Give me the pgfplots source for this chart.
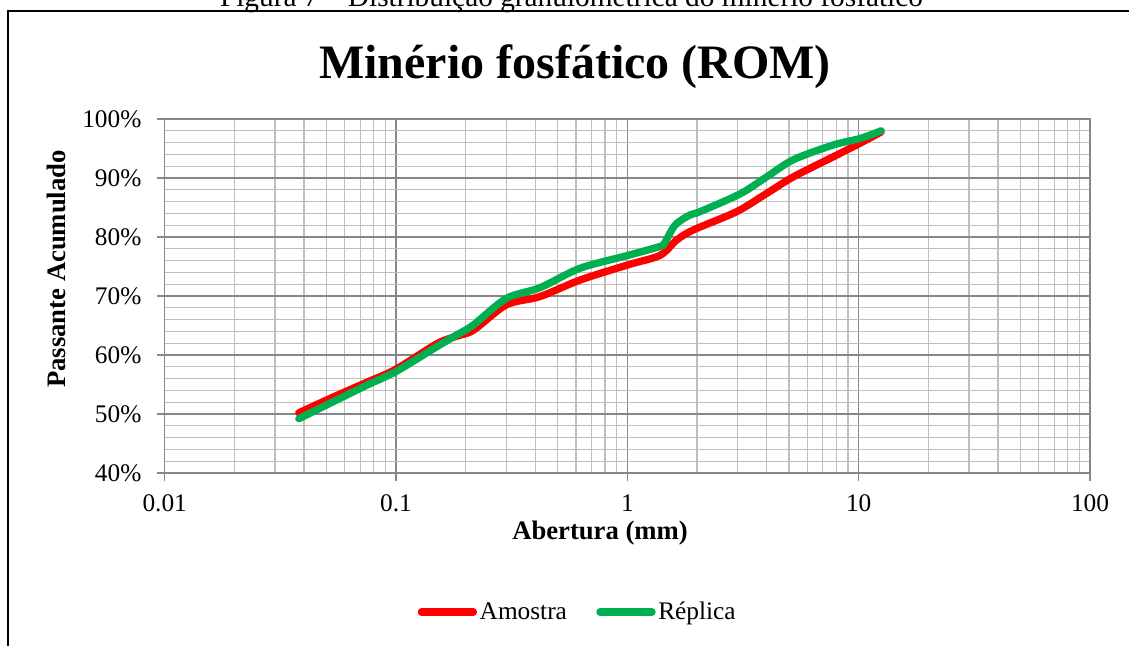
\documentclass[border=0pt]{standalone}
\usepackage{fontspec}
\setmainfont{Liberation Serif}
\usepackage{pgfplots}
\pgfplotsset{compat=1.18}
\definecolor{amostra}{HTML}{FF0000}
\definecolor{replica}{HTML}{00B050}
\definecolor{majorgrid}{HTML}{878787}
\definecolor{minorgrid}{HTML}{BFBFBF}

\begin{document}
\begin{tikzpicture}[x=0.75pt,y=-0.75pt]
\useasboundingbox (0,0) rectangle (1129,646);
\clip (0,0) rectangle (1129,646);
% frame of the figure
\draw[line width=1pt] (8,670) -- (8,11) -- (1150,11);
% caption above the frame
\node[anchor=base, inner sep=0pt, font=\fontsize{22}{24}\selectfont] at (571.5,6.5)
  {Figura 7 – Distribuição granulométrica do minério fosfático};
% chart title and axis titles
\node[anchor=base, inner sep=0pt, font=\fontsize{36}{40}\selectfont\bfseries] at (575,78)
  {Minério fosfático (ROM)};
\node[anchor=base, rotate=90, inner sep=0pt, font=\fontsize{20}{22}\selectfont\bfseries] at (65,269)
  {Passante Acumulado};
\node[anchor=base, inner sep=0pt, font=\fontsize{20}{22}\selectfont\bfseries] at (600,539)
  {Abertura (mm)};
\begin{axis}[
  at={(123.525pt,-354.75pt)}, anchor=south west,
  scale only axis, width=693.975pt, height=265.5pt,
  xmode=log, xmin=0.01, xmax=100, ymin=40, ymax=100,
  xtick={0.01,0.1,1,10,100}, xticklabels={0.01,0.1,1,10,100},
  minor xtick={0.02,0.03,0.04,0.05,0.06,0.07,0.08,0.09,
               0.2,0.3,0.4,0.5,0.6,0.7,0.8,0.9,
               2,3,4,5,6,7,8,9,20,30,40,50,60,70,80,90},
  ytick={40,50,60,70,80,90,100},
  minor y tick num=4,
  yticklabel={\pgfmathprintnumber{\tick}\%},
  /pgf/number format/assume math mode=true,
  grid=both,
  major grid style={majorgrid, line width=1.2pt},
  minor grid style={minorgrid, line width=0.9pt},
  axis line style={majorgrid, line width=1.2pt},
  tickpos=left, tick align=outside,
  major tick length=6pt, minor tick length=0pt,
  tick style={majorgrid, line width=1.2pt},
  ticklabel style={font=\fontsize{19}{21}\selectfont},
  xticklabel style={yshift=-7pt},
  yticklabel style={xshift=-8pt},
  legend style={at={(0.4467,-0.3927)}, anchor=center, draw=none, fill=none,
    legend columns=2, font=\fontsize{19}{21}\selectfont,
    /tikz/every even column/.append style={column sep=20pt}},
  legend image code/.code={\draw[line width=5.5pt, line cap=round] (0pt,0pt) -- (39pt,0pt);},
]
\addplot[amostra, line width=5.5pt, smooth, line join=round, line cap=round] coordinates {
  (0.038,50.2) (0.053,52.8) (0.075,55.4) (0.1,57.6) (0.15,61.9) (0.183,63.2)
  (0.216,64.2) (0.30,68.5) (0.419,69.9) (0.624,72.7) (1.01,75.3) (1.385,76.9)
  (1.635,79.5) (1.93,81.2) (2.97,84.3) (4.005,87.4) (5.22,90.2) (7.77,93.6)
  (10.14,95.9) (12.5,97.8)
};
\addlegendentry{Amostra}
\addplot[replica, line width=5.5pt, smooth, line join=round, line cap=round] coordinates {
  (0.038,49.2) (0.053,52.0) (0.075,54.9) (0.1,57.2) (0.15,61.4) (0.183,63.4)
  (0.216,65.1) (0.30,69.6) (0.419,71.4) (0.624,74.7) (1.01,76.9) (1.385,78.4)
  (1.44,78.8) (1.607,82.0) (1.857,83.7) (2.06,84.3) (3.07,87.3) (4.005,90.2)
  (5.22,93.1) (7.77,95.6) (10.14,96.7) (12.5,98.0)
};
\addlegendentry{Réplica}
\end{axis}
\end{tikzpicture}
\end{document}
